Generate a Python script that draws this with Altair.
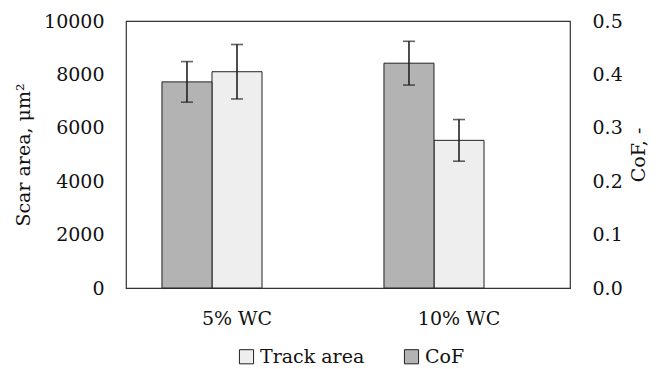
import altair as alt
import pandas as pd

categories = ["5% WC", "10% WC"]
track_area = [8100, 5530]
track_err = [1020, 780]
cof = [0.386, 0.421]
cof_err = [0.038, 0.041]

series_domain = ["CoF", "Track area", "_"]
FONT = "DejaVu Serif"

df_track = pd.DataFrame({
    "category": categories,
    "series": "Track area",
    "value": track_area,
    "lo": [v - e for v, e in zip(track_area, track_err)],
    "hi": [v + e for v, e in zip(track_area, track_err)],
})
df_cof = pd.DataFrame({
    "category": categories,
    "series": "CoF",
    "value": cof,
    "lo": [v - e for v, e in zip(cof, cof_err)],
    "hi": [v + e for v, e in zip(cof, cof_err)],
})

x_enc = alt.X("category:N", sort=categories, title=None,
              scale=alt.Scale(paddingInner=0.324, paddingOuter=0.162),
              axis=alt.Axis(labelAngle=0, ticks=False, domain=False, labelPadding=21))
xo_enc = alt.XOffset("series:N", scale=alt.Scale(domain=series_domain, paddingInner=0, paddingOuter=0))
color_enc = alt.Color("series:N",
                      scale=alt.Scale(domain=["Track area", "CoF"], range=["#eeeeee", "#b3b3b3"]),
                      legend=alt.Legend(title=None, orient="none", direction="horizontal",
                                        legendX=111, legendY=326,
                                        symbolType="square", symbolSize=200,
                                        symbolStrokeColor="#222222", symbolStrokeWidth=1,
                                        columnPadding=37, labelFontSize=19))


def make_layer(df, domain, values, fmt, title, orient, tpad):
    y_scale = alt.Scale(domain=domain, nice=False, zero=True)
    axis = alt.Axis(orient=orient, values=values, format=fmt, title=title,
                    grid=False, ticks=False, domain=False, labelPadding=22,
                    titleAngle=270, titlePadding=tpad, titleBaseline="bottom")
    base = alt.Chart(df)
    bars = base.mark_bar(stroke="#222222", strokeWidth=1).encode(
        x=x_enc, xOffset=xo_enc,
        y=alt.Y("value:Q", scale=y_scale, axis=axis, title=title),
        color=color_enc,
    )
    rule = base.mark_rule(color="#222222", strokeWidth=1.6).encode(
        x=x_enc, xOffset=xo_enc,
        y=alt.Y("lo:Q", scale=y_scale, axis=axis, title=title), y2="hi:Q",
    )
    cap_lo = base.mark_tick(color="#222222", thickness=1.6, size=12).encode(
        x=x_enc, xOffset=xo_enc, y=alt.Y("lo:Q", scale=y_scale, axis=axis, title=title))
    cap_hi = base.mark_tick(color="#222222", thickness=1.6, size=12).encode(
        x=x_enc, xOffset=xo_enc, y=alt.Y("hi:Q", scale=y_scale, axis=axis, title=title))
    return alt.layer(bars, rule, cap_lo, cap_hi)


left = make_layer(df_track, [0, 10000], [0, 2000, 4000, 6000, 8000, 10000], "d",
                  "Scar area, μm²", "left", 10)
right = make_layer(df_cof, [0, 0.5], [0, 0.1, 0.2, 0.3, 0.4, 0.5], ".1f",
                   "CoF, -", "right", 26)

chart = alt.layer(left, right).resolve_scale(y="independent").properties(
    width=444, height=267,
    padding={"left": 6, "top": 4, "right": 0, "bottom": 0},
).configure_view(stroke="#333333", strokeWidth=1.2).configure_axis(
    labelFont=FONT, titleFont=FONT, labelFontSize=19, titleFontSize=19,
    labelColor="#111111", titleColor="#111111", titleFontWeight="normal",
).configure_legend(labelFont=FONT, labelColor="#111111")

chart.save("out.html", embed_options={"renderer": "svg", "actions": False})
